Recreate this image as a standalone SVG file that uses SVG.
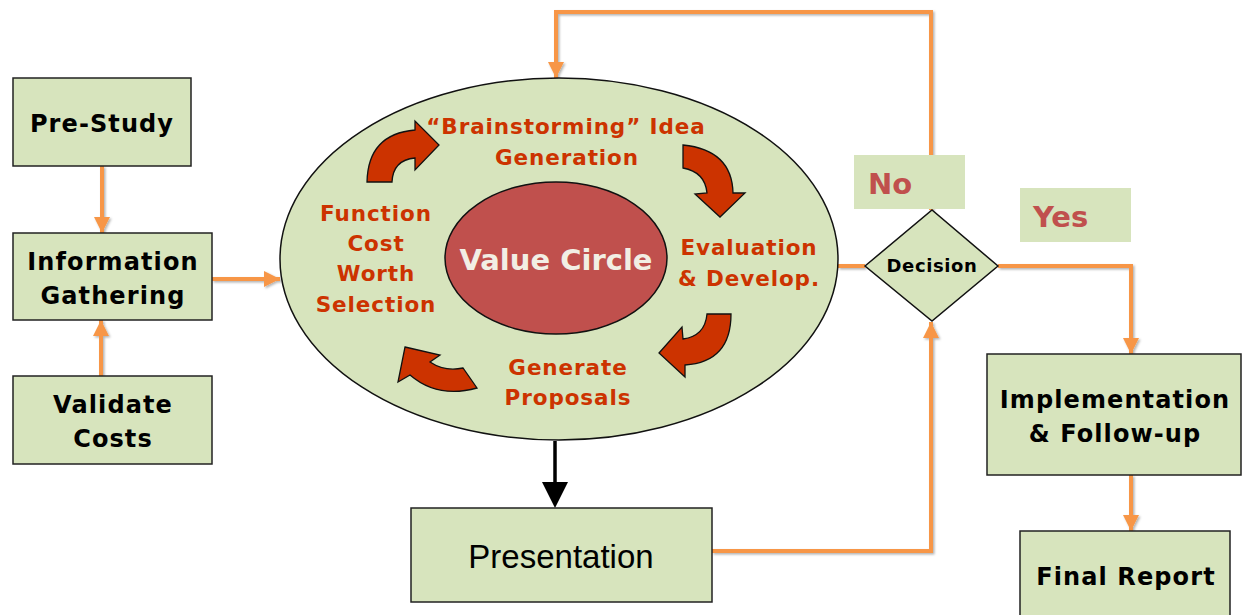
<svg xmlns="http://www.w3.org/2000/svg" width="1243" height="615" viewBox="0 0 1243 615">
<style>
.box{fill:#d7e4bd;stroke:#222;stroke-width:1.5}
.lbl{fill:#d7e4bd}
.t{font-family:"DejaVu Sans",Verdana,sans-serif;font-weight:bold;font-size:24px;fill:#000;text-anchor:middle;letter-spacing:1.1px}
.r{font-family:"DejaVu Sans",Verdana,sans-serif;font-weight:bold;font-size:21.5px;fill:#cc3300;text-anchor:middle;letter-spacing:0.9px}
.yn{font-family:"DejaVu Sans",Verdana,sans-serif;font-weight:bold;font-size:29px;fill:#c0504d}
.o{fill:none;stroke:#f79646;stroke-width:4;filter:url(#sh)}
.ca{fill:#cc3300;stroke:#111;stroke-width:1.3;stroke-linejoin:miter}
</style>
<defs>
<filter id="sh" filterUnits="userSpaceOnUse" x="0" y="0" width="1243" height="615">
<feDropShadow dx="1.5" dy="1.5" stdDeviation="1" flood-color="#000" flood-opacity="0.3"/>
</filter>
<marker id="oa" markerUnits="userSpaceOnUse" markerWidth="18" markerHeight="18" refX="16" refY="8" orient="auto">
<path d="M0,0 L16,8 L0,16 Z" fill="#f79646"/>
</marker>
</defs>
<rect width="1243" height="615" fill="#fff"/>

<g id="connectors">
<line class="o" x1="102" y1="166" x2="102" y2="233" marker-end="url(#oa)"/>
<line class="o" x1="101" y1="376" x2="101" y2="320" marker-end="url(#oa)"/>
<line class="o" x1="212" y1="279" x2="280" y2="279" marker-end="url(#oa)"/>
<line class="o" x1="838" y1="266" x2="865" y2="266"/>
<polyline class="o" points="931,210 931,12 556,12 556,78" marker-end="url(#oa)"/>
<polyline class="o" points="998,266 1131,266 1131,354" marker-end="url(#oa)"/>
<polyline class="o" points="712,551 931,551 931,322" marker-end="url(#oa)"/>
<line class="o" x1="1131" y1="475" x2="1131" y2="531" marker-end="url(#oa)"/>
<line x1="555" y1="441" x2="555" y2="484" stroke="#000" stroke-width="3.5"/>
<path d="M542,482 L568,482 L555,508 Z" fill="#000"/>
</g>

<g id="pre-study">
<rect class="box" x="13" y="78" width="178" height="88"/>
<text class="t" x="102" y="132">Pre-Study</text>
</g>
<g id="information-gathering">
<rect class="box" x="13" y="233" width="199" height="87"/>
<text class="t" x="113" y="270">Information</text>
<text class="t" x="113" y="304">Gathering</text>
</g>
<g id="validate-costs">
<rect class="box" x="13" y="376" width="199" height="88"/>
<text class="t" x="113" y="413">Validate</text>
<text class="t" x="113" y="447">Costs</text>
</g>

<g id="value-circle">
<ellipse cx="559" cy="259" rx="279" ry="181" fill="#d7e4bd" stroke="#111" stroke-width="1.5"/>
<ellipse cx="556" cy="258" rx="111" ry="76" fill="#c0504d" stroke="#111" stroke-width="1.5"/>
<text x="556" y="270" font-family="DejaVu Sans,Verdana,sans-serif" font-weight="bold" font-size="29" fill="#f2eee4" text-anchor="middle">Value Circle</text>
<path class="ca" d="M367,182 Q368,134 415,130 L415,121 L439,145 L415,170 L415,158 Q393,160 392,182 Z"/>
<path class="ca" d="M683,145 Q732,150 733,193 L745,193 L720,217 L695,194 L707,193 Q705,172 683,168 Z"/>
<path class="ca" d="M707,314 L731,314 Q731,362 685,365 L685,377 L659,353 L682,327 L683,339 Q705,336 707,314 Z"/>
<path class="ca" d="M405,347 L440,355 L430,362 Q445,372 463,368 L477,388 Q438,399 410,375 L398,382 Z"/>
<text class="r" x="566" y="134">“Brainstorming” Idea</text>
<text class="r" x="567" y="165">Generation</text>
<text class="r" x="376" y="221">Function</text>
<text class="r" x="376" y="251">Cost</text>
<text class="r" x="376" y="281">Worth</text>
<text class="r" x="376" y="312">Selection</text>
<text class="r" x="749" y="255">Evaluation</text>
<text class="r" x="749" y="286">&amp; Develop.</text>
<text class="r" x="568" y="375">Generate</text>
<text class="r" x="568" y="405">Proposals</text>
</g>

<g id="presentation">
<rect class="box" x="411" y="508" width="301" height="94"/>
<text x="561" y="568" font-family="Liberation Sans,Arial,sans-serif" font-size="33" fill="#000" text-anchor="middle">Presentation</text>
</g>

<g id="no-label">
<rect class="lbl" x="854" y="155" width="111" height="54"/>
<text class="yn" x="868" y="194">No</text>
</g>
<g id="yes-label">
<rect class="lbl" x="1020" y="188" width="111" height="54"/>
<text class="yn" x="1033" y="227">Yes</text>
</g>

<g id="decision">
<polygon points="865,266 932,210 998,266 932,321" fill="#d7e4bd" stroke="#111" stroke-width="1.5"/>
<text x="932" y="272" font-family="DejaVu Sans,Verdana,sans-serif" font-weight="bold" font-size="18" fill="#000" text-anchor="middle" letter-spacing="0.6">Decision</text>
</g>

<g id="implementation">
<rect class="box" x="987" y="354" width="254" height="121"/>
<text class="t" x="1115" y="408">Implementation</text>
<text class="t" x="1115" y="442">&amp; Follow-up</text>
</g>
<g id="final-report">
<rect class="box" x="1020" y="531" width="210" height="90"/>
<text class="t" x="1126" y="585">Final Report</text>
</g>
</svg>
